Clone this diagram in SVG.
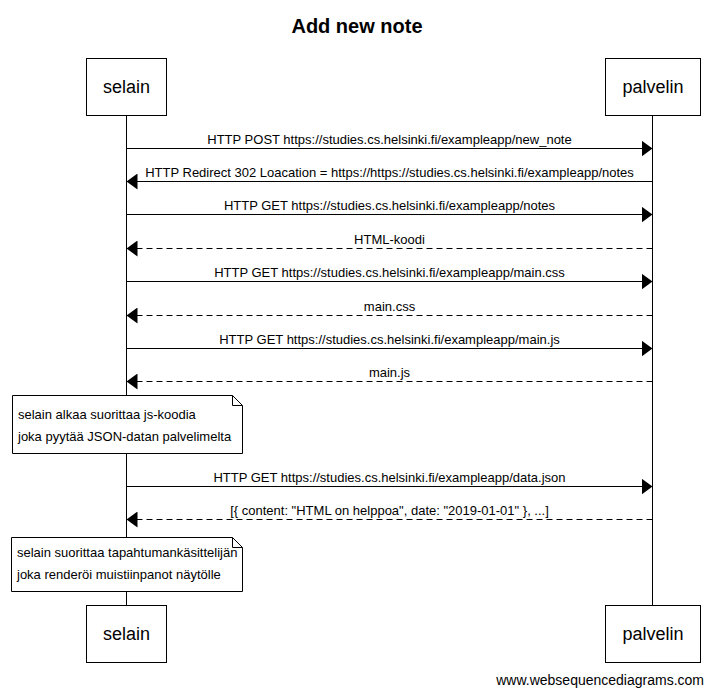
<svg xmlns="http://www.w3.org/2000/svg" width="714" height="695" viewBox="0 0 714 695">
  <style>
    text { font-family: "Liberation Sans", Arial, sans-serif; fill: #000; }
    .title { font-size: 20px; font-weight: bold; text-anchor: middle; }
    .actor rect { fill: #fff; stroke: #000; stroke-width: 1; }
    .actor text { font-size: 18px; text-anchor: middle; }
    .life { stroke: #000; stroke-width: 1; }
    .msg { stroke: #000; stroke-width: 1; fill: none; }
    .ret { stroke-dasharray: 6 4; }
    .lbl { font-size: 13px; text-anchor: middle; }
    .note path { fill: #fff; stroke: #000; stroke-width: 1; }
    .note text { font-size: 13px; }
    .foot { font-size: 14px; text-anchor: end; }
  </style>
  <defs>
    <marker id="head" markerWidth="12" markerHeight="16" refX="11" refY="8" orient="auto" markerUnits="userSpaceOnUse">
      <path d="M0,0 L11,8 L0,16 Z" fill="#000"/>
    </marker>
  </defs>

  <text class="title" x="357" y="33">Add new note</text>

  <!-- lifelines -->
  <g id="lifelines">
    <line class="life" x1="126.5" y1="115" x2="126.5" y2="605"/>
    <line class="life" x1="652.5" y1="115" x2="652.5" y2="605"/>
  </g>

  <g id="selain" class="actor">
    <rect x="86.5" y="58.5" width="80" height="57"/>
    <text x="126.5" y="93">selain</text>
  </g>
  <g id="palvelin" class="actor">
    <rect x="605.5" y="58.5" width="95" height="57"/>
    <text x="653" y="93">palvelin</text>
  </g>
  <g id="selain-bottom" class="actor">
    <rect x="86.5" y="605.5" width="80" height="57"/>
    <text x="126.5" y="640">selain</text>
  </g>
  <g id="palvelin-bottom" class="actor">
    <rect x="605.5" y="605.5" width="95" height="57"/>
    <text x="653" y="640">palvelin</text>
  </g>

  <!-- messages -->
  <g id="connectors">
    <line class="msg" x1="126.5" y1="148.5" x2="652.5" y2="148.5" marker-end="url(#head)"/>
    <text class="lbl" x="389.5" y="144">HTTP POST https://studies.cs.helsinki.fi/exampleapp/new_note</text>

    <line class="msg" x1="652.5" y1="181.5" x2="126.5" y2="181.5" marker-end="url(#head)"/>
    <text class="lbl" x="389.5" y="177">HTTP Redirect 302 Loacation = https://https://studies.cs.helsinki.fi/exampleapp/notes</text>

    <line class="msg" x1="126.5" y1="214.5" x2="652.5" y2="214.5" marker-end="url(#head)"/>
    <text class="lbl" x="389.5" y="210">HTTP GET https://studies.cs.helsinki.fi/exampleapp/notes</text>

    <line class="msg ret" x1="652.5" y1="248.5" x2="126.5" y2="248.5" marker-end="url(#head)"/>
    <text class="lbl" x="389.5" y="244">HTML-koodi</text>

    <line class="msg" x1="126.5" y1="281.5" x2="652.5" y2="281.5" marker-end="url(#head)"/>
    <text class="lbl" x="389.5" y="277">HTTP GET https://studies.cs.helsinki.fi/exampleapp/main.css</text>

    <line class="msg ret" x1="652.5" y1="315.5" x2="126.5" y2="315.5" marker-end="url(#head)"/>
    <text class="lbl" x="389.5" y="311">main.css</text>

    <line class="msg" x1="126.5" y1="348.5" x2="652.5" y2="348.5" marker-end="url(#head)"/>
    <text class="lbl" x="389.5" y="344">HTTP GET https://studies.cs.helsinki.fi/exampleapp/main.js</text>

    <line class="msg ret" x1="652.5" y1="381.5" x2="126.5" y2="381.5" marker-end="url(#head)"/>
    <text class="lbl" x="389.5" y="377">main.js</text>

    <line class="msg" x1="126.5" y1="486.5" x2="652.5" y2="486.5" marker-end="url(#head)"/>
    <text class="lbl" x="389.5" y="482">HTTP GET https://studies.cs.helsinki.fi/exampleapp/data.json</text>

    <line class="msg ret" x1="652.5" y1="519.5" x2="126.5" y2="519.5" marker-end="url(#head)"/>
    <text class="lbl" x="389.5" y="515">[{ content: "HTML on helppoa", date: "2019-01-01" }, ...]</text>
  </g>

  <!-- notes -->
  <g id="note1" class="note">
    <path d="M12.5,395.5 H232.5 L242.5,405.5 V453.5 H12.5 Z M232.5,395.5 V405.5 H242.5"/>
    <text x="18" y="419">selain alkaa suorittaa js-koodia</text>
    <text x="18" y="441">joka pyytää JSON-datan palvelimelta</text>
  </g>
  <g id="note2" class="note">
    <path d="M11.5,537.5 H232.5 L242.5,547.5 V591.5 H11.5 Z M232.5,537.5 V547.5 H242.5"/>
    <text x="17" y="557">selain suorittaa tapahtumankäsittelijän</text>
    <text x="17" y="579">joka renderöi muistiinpanot näytölle</text>
  </g>

  <text class="foot" x="704" y="685">www.websequencediagrams.com</text>
</svg>
